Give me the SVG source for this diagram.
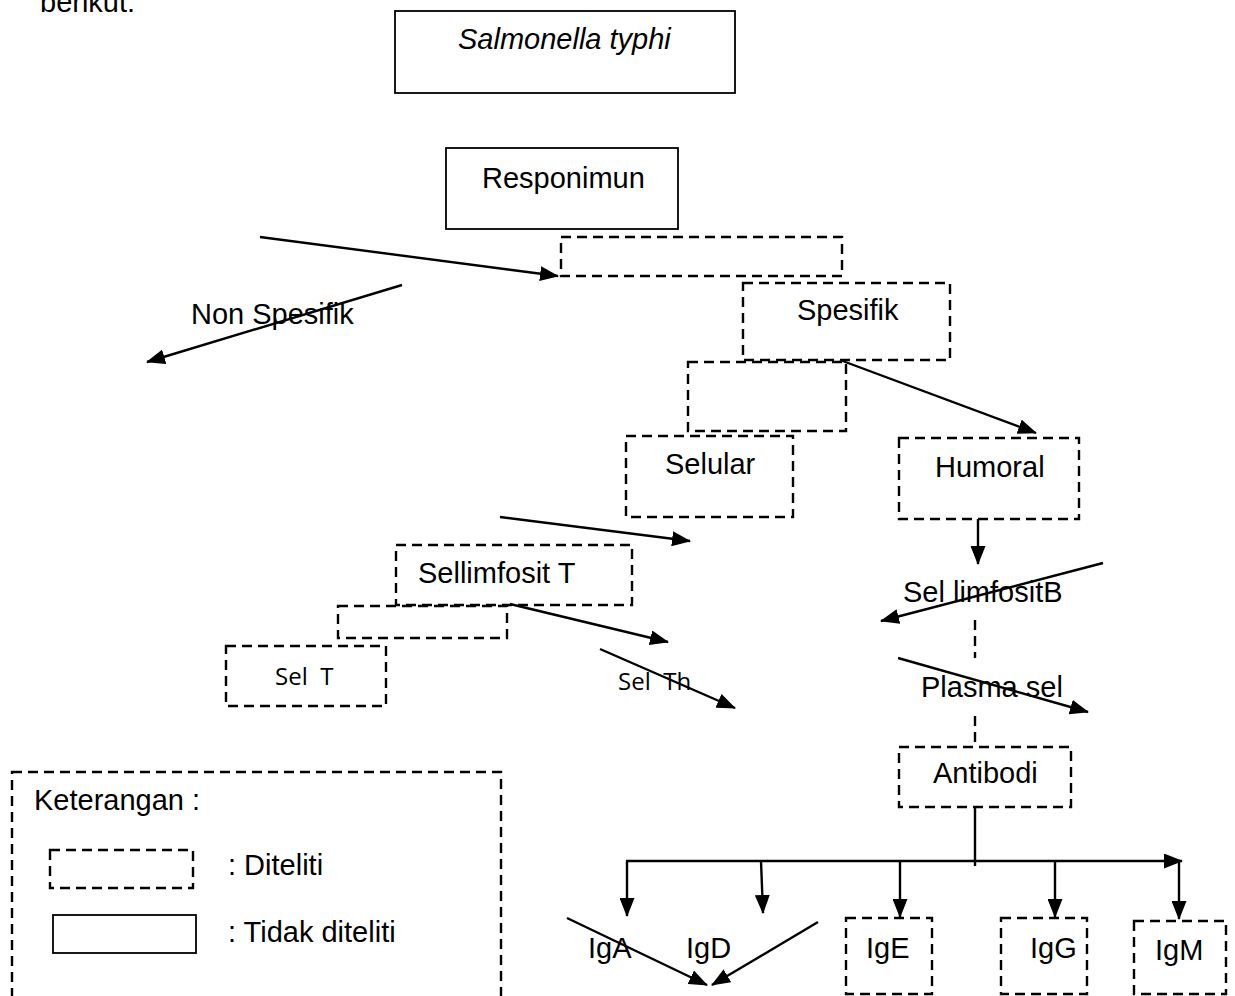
<svg xmlns="http://www.w3.org/2000/svg" width="1235" height="996" viewBox="0 0 1235 996">
<style>
text{font-family:"Liberation Sans",Arial,sans-serif;font-size:29px;fill:#000}
.cal{font-family:"Open Sans","Noto Sans",sans-serif;font-size:24px}
.dash{fill:none;stroke:#000;stroke-width:2.4;stroke-dasharray:10,6}
.solid{fill:none;stroke:#000;stroke-width:1.8}
.ln{fill:none;stroke:#000;stroke-width:2.4}
.arr{fill:none;stroke:#000;stroke-width:2.4;marker-end:url(#ah)}
</style>
<defs>
<marker id="ah" viewBox="0 0 19 15" refX="18" refY="7.5" markerWidth="19" markerHeight="15" markerUnits="userSpaceOnUse" orient="auto">
<path d="M0,0 L19,7.5 L0,15 z" fill="#000"/>
</marker>
</defs>
<rect width="1235" height="996" fill="#fff"/>
<text x="40" y="12">berikut:</text>
<g id="salmonella"><rect class="solid" x="395" y="11" width="340" height="82"/><text x="458" y="49" font-style="italic">Salmonella typhi</text></g>
<g id="responimun"><rect class="solid" x="446" y="148" width="232" height="81"/><text x="482" y="188">Responimun</text></g>
<g id="box-empty1"><rect class="dash" x="561" y="237" width="281" height="39"/></g>
<g id="nonspesifik"><text x="191" y="324">Non Spesifik</text></g>
<g id="spesifik"><rect class="dash" x="743" y="283" width="207" height="77"/><text x="797" y="320">Spesifik</text></g>
<g id="box-empty2"><rect class="dash" x="688" y="362" width="158" height="69"/></g>
<g id="selular"><rect class="dash" x="626" y="436" width="167" height="81"/><text x="665" y="474">Selular</text></g>
<g id="humoral"><rect class="dash" x="899" y="438" width="180" height="81"/><text x="935" y="477">Humoral</text></g>
<g id="sellimfositT"><rect class="dash" x="396" y="545" width="236" height="60"/><text x="418" y="583">Sellimfosit T</text></g>
<g id="box-empty3"><rect class="dash" x="338" y="606" width="169" height="32"/></g>
<g id="selT"><rect class="dash" x="226" y="646" width="160" height="60"/><text class="cal" x="275" y="685" xml:space="preserve">Sel  T</text></g>
<g id="selTh"><text class="cal" x="618" y="690" xml:space="preserve">Sel  Th</text></g>
<g id="sellimfositB"><text x="903" y="602">Sel limfositB</text></g>
<g id="plasmasel"><text x="921" y="697">Plasma sel</text></g>
<g id="antibodi"><rect class="dash" x="899" y="747" width="172" height="60"/><text x="933" y="783">Antibodi</text></g>
<g id="igA"><text x="588" y="958">IgA</text></g>
<g id="igD"><text x="686" y="958">IgD</text></g>
<g id="igE"><rect class="dash" x="846" y="918" width="86" height="76"/><text x="866" y="958">IgE</text></g>
<g id="igG"><rect class="dash" x="1001" y="918" width="86" height="76"/><text x="1030" y="958">IgG</text></g>
<g id="igM"><rect class="dash" x="1134" y="921" width="92" height="73"/><text x="1155" y="960">IgM</text></g>
<g id="legend">
<rect class="dash" x="12" y="772" width="489" height="240"/>
<text x="34" y="810">Keterangan :</text>
<rect class="dash" x="50" y="850" width="143" height="38"/>
<text x="228" y="875">: Diteliti</text>
<rect class="solid" x="53" y="915" width="143" height="38"/>
<text x="228" y="942">: Tidak diteliti</text>
</g>
<g id="connectors">
<line class="arr" x1="260" y1="237" x2="558" y2="276"/>
<line class="arr" x1="402" y1="285" x2="147" y2="362"/>
<line class="arr" x1="840" y1="360" x2="1036" y2="433"/>
<line class="arr" x1="500" y1="517" x2="690" y2="541"/>
<line class="arr" x1="978" y1="519" x2="978" y2="564"/>
<line class="arr" x1="1103" y1="563" x2="881" y2="621"/>
<line class="arr" x1="510" y1="604" x2="668" y2="642"/>
<line class="arr" x1="600" y1="649" x2="735" y2="708"/>
<line class="arr" x1="898" y1="658" x2="1088" y2="712"/>
<line class="ln" x1="975" y1="620" x2="975" y2="658" stroke-dasharray="10,6"/>
<line class="ln" x1="975" y1="716" x2="975" y2="747" stroke-dasharray="10,6"/>
<line class="ln" x1="975" y1="807" x2="975" y2="866"/>
<line class="arr" x1="626" y1="861" x2="1182" y2="861"/>
<line class="arr" x1="627" y1="861" x2="627" y2="916"/>
<line class="arr" x1="761" y1="861" x2="763" y2="913"/>
<line class="arr" x1="900" y1="861" x2="900" y2="917"/>
<line class="arr" x1="1055" y1="861" x2="1055" y2="917"/>
<line class="arr" x1="1179" y1="861" x2="1179" y2="919"/>
<line class="arr" x1="567" y1="918" x2="707" y2="985"/>
<line class="arr" x1="818" y1="922" x2="712" y2="985"/>
</g>
</svg>
